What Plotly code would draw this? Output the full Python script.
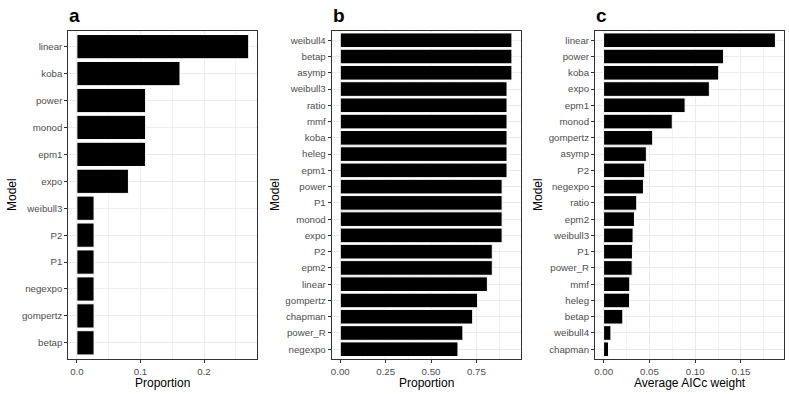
import plotly.graph_objects as go

# ---- data ----
models_a = ["linear", "koba", "power", "monod", "epm1", "expo", "weibull3",
            "P2", "P1", "negexpo", "gompertz", "betap"]
prop_a = [0.2703, 0.1622, 0.1081, 0.1081, 0.1081, 0.0811, 0.0270,
          0.0270, 0.0270, 0.0270, 0.0270, 0.0270]

models_b = ["weibull4", "betap", "asymp", "weibull3", "ratio", "mmf", "koba",
            "heleg", "epm1", "power", "P1", "monod", "expo", "P2", "epm2",
            "linear", "gompertz", "chapman", "power_R", "negexpo"]
prop_b = [0.9459, 0.9459, 0.9459, 0.9189, 0.9189, 0.9189, 0.9189,
          0.9189, 0.9189, 0.8919, 0.8919, 0.8919, 0.8919, 0.8378, 0.8378,
          0.8108, 0.7568, 0.7297, 0.6757, 0.6486]

models_c = ["linear", "power", "koba", "expo", "epm1", "monod", "gompertz",
            "asymp", "P2", "negexpo", "ratio", "epm2", "weibull3", "P1",
            "power_R", "mmf", "heleg", "betap", "weibull4", "chapman"]
aicc_c = [0.1876, 0.1310, 0.1257, 0.1155, 0.0890, 0.0750, 0.0536,
          0.0467, 0.0449, 0.0435, 0.0362, 0.0337, 0.0322, 0.0315,
          0.0312, 0.0286, 0.0284, 0.0210, 0.0080, 0.0054]

panel_letters = ["a", "b", "c"]
x_titles = ["Proportion", "Proportion", "Average AICc weight"]

W, H = 789, 394
FONT = "Liberation Sans, Arial, sans-serif"

# pixel layout of each panel (left, right), top/bottom shared
panels_px = [(68.3, 257.3), (331.7, 520.5), (595.0, 784.0)]
top_px, bot_px = 30.5, 359.0

fig = go.Figure()

datasets = [(models_a, prop_a), (models_b, prop_b), (models_c, aicc_c)]
xranges = []
for cats, vals in datasets:
    mx = max(vals)
    pad = 0.05 * mx
    xranges.append([-pad, mx + pad])

xspecs = [dict(dtick=0.1, fmt=".1f", minor=0.05),
          dict(dtick=0.25, fmt=".2f", minor=0.125),
          dict(dtick=0.05, fmt=".2f", minor=0.025)]

for i, (cats, vals) in enumerate(datasets):
    xa = "x" if i == 0 else f"x{i+1}"
    ya = "y" if i == 0 else f"y{i+1}"
    fig.add_trace(go.Bar(
        x=vals, y=cats, orientation="h",
        marker=dict(color="black", line=dict(color="white", width=1)),
        width=0.9,
        xaxis=xa, yaxis=ya, showlegend=False,
    ))
    l, r = panels_px[i]
    dom_x = [l / W, r / W]
    dom_y = [1 - bot_px / H, 1 - top_px / H]
    n = len(cats)
    sp = xspecs[i]
    axis_common = dict(
        showline=True, mirror=True, linecolor="#333333", linewidth=1,
        ticks="outside", ticklen=3, tickwidth=1, tickcolor="#333333",
        tickfont=dict(family=FONT, size=9.7, color="#4D4D4D"),
        gridcolor="#EBEBEB", gridwidth=1, zeroline=False,
    )
    xkey = "xaxis" if i == 0 else f"xaxis{i+1}"
    ykey = "yaxis" if i == 0 else f"yaxis{i+1}"
    fig.update_layout(**{
        xkey: dict(domain=dom_x, anchor=ya, range=xranges[i],
                   dtick=sp["dtick"], tick0=0, tickformat=sp["fmt"],
                   minor=dict(dtick=sp["minor"], tick0=0, showgrid=True,
                              gridcolor="#F3F3F3", gridwidth=0.6,
                              ticks=""),
                   **axis_common),
        ykey: dict(domain=dom_y, anchor=xa, type="category",
                   categoryorder="array", categoryarray=cats,
                   range=[n - 0.4, -0.6],
                   **axis_common),
    })
    cx = (l + r) / 2 / W
    # panel letter
    fig.add_annotation(text=f"<b>{panel_letters[i]}</b>", xref="paper",
                       yref="paper", x=(l - 1) / W, y=1 - 15 / H,
                       xanchor="left", yanchor="middle", showarrow=False,
                       font=dict(family=FONT, size=19, color="black"))
    # x title
    fig.add_annotation(text=x_titles[i], xref="paper", yref="paper",
                       x=cx, y=1 - 383 / H, xanchor="center",
                       yanchor="middle", showarrow=False,
                       font=dict(family=FONT, size=12, color="black"))

# y titles
for xpx in [12, 275, 538]:
    fig.add_annotation(text="Model", xref="paper", yref="paper",
                       x=xpx / W, y=1 - 195 / H, xanchor="center",
                       yanchor="middle", textangle=-90, showarrow=False,
                       font=dict(family=FONT, size=12, color="black"))

fig.update_layout(
    width=W, height=H,
    margin=dict(l=0, r=0, t=0, b=0),
    paper_bgcolor="white", plot_bgcolor="white",
    bargap=0.1,
    font=dict(family=FONT),
)

fig.write_html(
    "out.html",
    config={"displayModeBar": False},
    post_script="document.body.style.margin='0';"
                "document.body.style.overflow='hidden';",
)
